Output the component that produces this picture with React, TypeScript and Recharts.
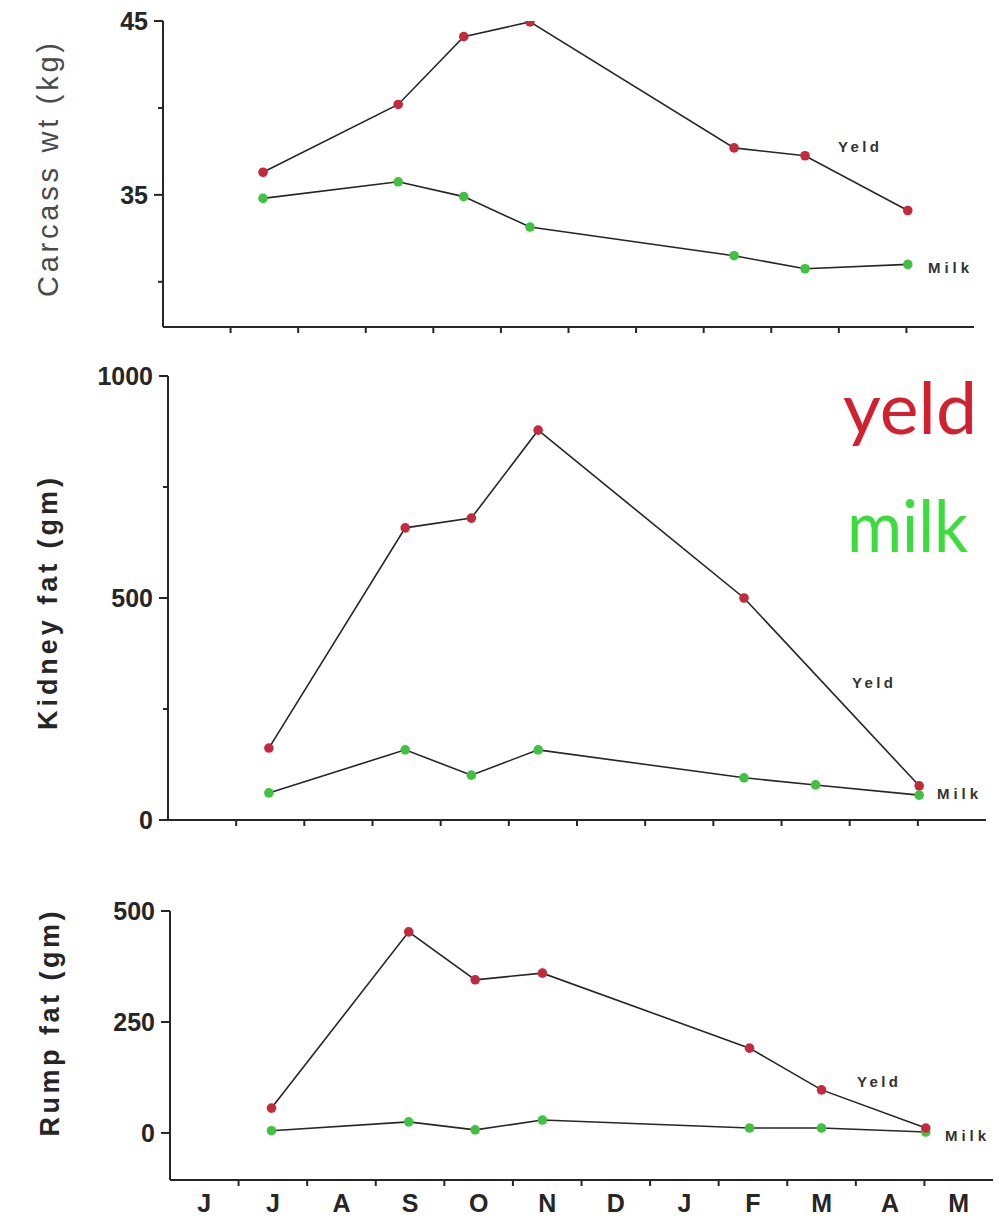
import { LineChart, Line, XAxis, YAxis } from "recharts";

// sampling dates, in months from 1 June (0 = start of June)
const sampleMonth = [1.48, 3.48, 4.45, 5.43, 8.45, 9.5, 11.02];

const carcassYeld = [36.3, 40.2, 44.1, 44.95, 37.7, 37.25, 34.1];
const carcassMilk = [34.8, 35.75, 34.9, 33.15, 31.5, 30.75, 31.0];

const kidneyYeld = [162, 658, 680, 878, 500, null, 77];
const kidneyMilk = [61, 158, 101, 158, 95, 79, 56];

const rumpYeld = [56, 453, 345, 360, 191, 97, 11];
const rumpMilk = [5, 25, 7, 29, 11, 11, 2];

const monthLabels = ["J", "J", "A", "S", "O", "N", "D", "J", "F", "M", "A", "M"];

const carcassTicks = [30, 35, 40, 45];
const carcassLabelled = [35, 45];
const kidneyTicks = [0, 250, 500, 750, 1000];
const kidneyLabelled = [0, 500, 1000];
const rumpTicks = [0, 250, 500];
const rumpLabelled = [0, 250, 500];

const RED = "#c42a3c";
const GREEN = "#3fc23f";
const INK = "#262626";
const FONT = "'Liberation Sans', Arial, sans-serif";

const boundaries = monthLabels.slice(1).map((_, i) => i + 1);
const withCentres = [...boundaries, ...monthLabels.map((_, i) => i + 0.5)].sort((a, b) => a - b);

const rows = (a: (number | null)[], b: (number | null)[]) =>
  sampleMonth.map((m, i) => ({ month: m, yeld: a[i], milk: b[i] }));

function XTick(props: any) {
  const { x, y, payload, showLabels } = props;
  const v = payload.value;
  if (Number.isInteger(v)) {
    return <line x1={x} x2={x} y1={y} y2={y + 6} stroke={INK} strokeWidth={2} />;
  }
  if (!showLabels) return <g />;
  return (
    <text x={x} y={y + 32} textAnchor="middle" fontFamily={FONT} fontWeight={700} fontSize={25} fill={INK}>
      {monthLabels[Math.floor(v)]}
    </text>
  );
}

function YTick(props: any) {
  const { x, y, payload, labelled } = props;
  const on = labelled.includes(payload.value);
  return (
    <g>
      <line x1={x - (on ? 9 : 5)} x2={x} y1={y} y2={y} stroke={INK} strokeWidth={2} />
      {on && (
        <text x={x - 15} y={y} dy="0.36em" textAnchor="end" fontFamily={FONT} fontWeight={700} fontSize={25} fill={INK}>
          {payload.value}
        </text>
      )}
    </g>
  );
}

function Panel({
  data,
  top,
  height,
  marginTop,
  right,
  left,
  xHeight,
  domain,
  ticks,
  labelled,
  showMonths,
}: {
  data: any[];
  top: number;
  height: number;
  marginTop: number;
  right: number;
  left: number;
  xHeight: number;
  domain: [number, number];
  ticks: number[];
  labelled: number[];
  showMonths?: boolean;
}) {
  return (
    <div style={{ position: "absolute", left: 0, top }}>
      <LineChart width={999} height={height} data={data} margin={{ top: marginTop, right, left: 0, bottom: 0 }}>
        <XAxis
          type="number"
          dataKey="month"
          domain={[0, 12]}
          ticks={showMonths ? withCentres : boundaries}
          interval={0}
          height={xHeight}
          tickSize={0}
          tickMargin={0}
          tickLine={false}
          axisLine={{ stroke: INK, strokeWidth: 2 }}
          tick={(p: any) => <XTick {...p} showLabels={showMonths} />}
        />
        <YAxis
          type="number"
          width={left}
          domain={domain}
          allowDataOverflow
          ticks={ticks}
          interval={0}
          tickSize={0}
          tickMargin={0}
          tickLine={false}
          axisLine={{ stroke: INK, strokeWidth: 2 }}
          tick={(p: any) => <YTick {...p} labelled={labelled} />}
        />
        <Line
          type="linear"
          dataKey="milk"
          stroke={INK}
          strokeWidth={1.6}
          connectNulls
          dot={{ r: 4.8, fill: GREEN, stroke: GREEN, strokeWidth: 0 }}
          isAnimationActive={false}
        />
        <Line
          type="linear"
          dataKey="yeld"
          stroke={INK}
          strokeWidth={1.6}
          connectNulls
          dot={{ r: 4.8, fill: RED, stroke: RED, strokeWidth: 0 }}
          isAnimationActive={false}
        />
      </LineChart>
    </div>
  );
}

function Title({ x, y, len, text, bold }: { x: number; y: number; len: number; text: string; bold?: boolean }) {
  return (
    <text
      transform={`translate(${x},${y}) rotate(-90)`}
      textAnchor="middle"
      fontFamily={FONT}
      fontWeight={bold ? 700 : 400}
      fontSize={bold ? 27 : 29}
      fill={bold ? INK : "#4a4a4a"}
      textLength={len}
      lengthAdjust="spacing"
    >
      {text}
    </text>
  );
}

function Tag({ x, y, text }: { x: number; y: number; text: string }) {
  return (
    <text x={x} y={y} dy="0.36em" fontFamily={FONT} fontWeight={700} fontSize={15} fill="#333" textLength={41} lengthAdjust="spacing">
      {text}
    </text>
  );
}

export default function App() {
  return (
    <div style={{ position: "absolute", left: 0, top: 0, width: 999, height: 1222, overflow: "hidden", background: "#fff" }}>
      <Panel
        data={rows(carcassYeld, carcassMilk)}
        top={0}
        height={357}
        marginTop={21}
        right={25}
        left={163}
        xHeight={30}
        domain={[27.4, 45]}
        ticks={carcassTicks}
        labelled={carcassLabelled}
      />
      <Panel
        data={rows(kidneyYeld, kidneyMilk)}
        top={350}
        height={500}
        marginTop={26}
        right={13}
        left={168}
        xHeight={30}
        domain={[0, 1000]}
        ticks={kidneyTicks}
        labelled={kidneyLabelled}
      />
      <Panel
        data={rows(rumpYeld, rumpMilk)}
        top={880}
        height={342}
        marginTop={31}
        right={6}
        left={170}
        xHeight={42}
        domain={[-106, 500]}
        ticks={rumpTicks}
        labelled={rumpLabelled}
        showMonths
      />
      <svg width={999} height={1222} style={{ position: "absolute", left: 0, top: 0, pointerEvents: "none" }}>
        <Title x={58} y={170} len={254} text="Carcass  wt  (kg)" />
        <Title x={57} y={604} len={252} text="Kidney  fat  (gm)" bold />
        <Title x={59} y={1024} len={225} text="Rump  fat  (gm)" bold />
        <Tag x={838} y={147} text="Yeld" />
        <Tag x={928} y={268} text="Milk" />
        <Tag x={852} y={683} text="Yeld" />
        <Tag x={937} y={794} text="Milk" />
        <Tag x={857} y={1082} text="Yeld" />
        <Tag x={945} y={1136} text="Milk" />
        <text x={843} y={434} fontFamily="Lato, sans-serif" fontWeight={400} fontSize={72} fill="#d2202e" textLength={134} lengthAdjust="spacingAndGlyphs">
          yeld
        </text>
        <text x={847} y={552} fontFamily="Lato, sans-serif" fontWeight={400} fontSize={72} fill="#3ddc3d" textLength={121} lengthAdjust="spacingAndGlyphs">
          milk
        </text>
      </svg>
    </div>
  );
}
